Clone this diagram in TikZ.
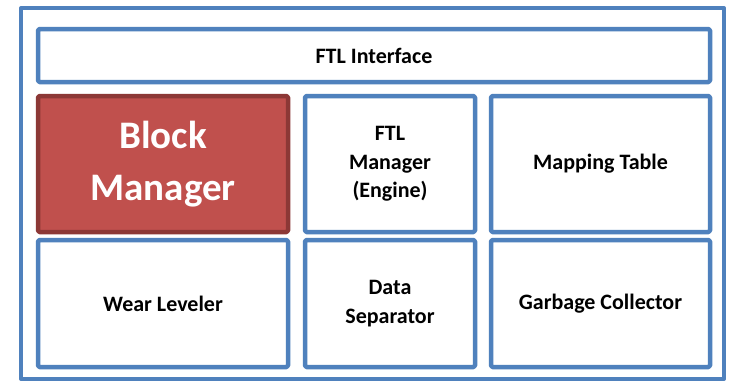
\documentclass[tikz,border=0pt]{standalone}
\usepackage{fontspec}
\setmainfont{Carlito}
\definecolor{ftlblue}{HTML}{4F81BD}
\definecolor{bmred}{HTML}{C0504D}
\definecolor{bmdark}{HTML}{8C3836}

\begin{document}
\begin{tikzpicture}[x=1pt,y=-1pt,line join=round,
  unit/.style={draw=ftlblue,line width=4.5pt,rounded corners=1.5pt,fill=white,inner sep=0pt,align=center,font=\bfseries\fontsize{22}{28.5}\selectfont}]
\fill[white] (0,0) rectangle (729,383);
\useasboundingbox (0,0) rectangle (729,383);
\node[draw=ftlblue,line width=4pt,minimum width=703pt,minimum height=371pt,inner sep=0pt] (ftl) at (372.5,193.5) {};
\node[unit,minimum width=672pt,minimum height=53pt] (iface) at (374,55.5) {FTL Interface};
\node[unit,draw=bmdark,fill=bmred,text=white,minimum width=250pt,minimum height=136pt,font=\bfseries\fontsize{39}{52}\selectfont] (block) at (163,164) {Block\\Manager};
\node[unit,minimum width=170pt,minimum height=136pt] (engine) at (390,164) {FTL\\Manager\\(Engine)};
\node[unit,minimum width=219pt,minimum height=136pt] (mapping) at (600.5,164) {Mapping Table};
\node[unit,minimum width=250pt,minimum height=127pt] (wear) at (163,303.5) {Wear Leveler};
\node[unit,minimum width=170pt,minimum height=127pt] (sep) at (390,303.5) {Data\\Separator};
\node[unit,minimum width=219pt,minimum height=127pt] (gc) at (600.5,303.5) {Garbage Collector};
\end{tikzpicture}
\end{document}
